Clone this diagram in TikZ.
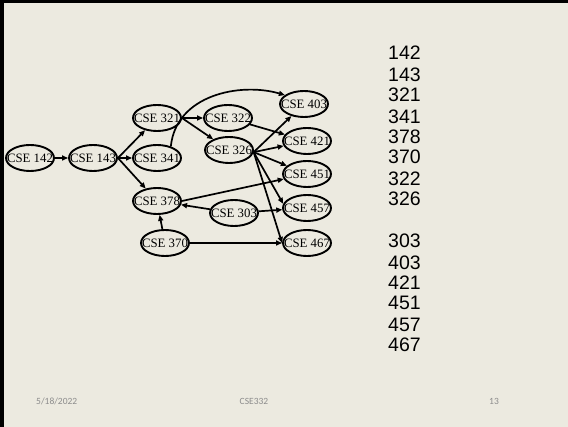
\documentclass[tikz,border=0pt]{standalone}
\usepackage{fontspec}
\setmainfont{Liberation Serif}
\newfontfamily\listfont{Liberation Sans}
\newfontfamily\footfont{Carlito}
\usetikzlibrary{shapes.geometric,arrows.meta}
\definecolor{slidebg}{HTML}{ECEAE0}
\definecolor{footgray}{HTML}{8C8C8C}
\begin{document}
\begin{tikzpicture}[x=1pt,y=-1pt,
  course/.style={draw,ellipse,line width=1.9pt,minimum width=48pt,minimum height=26pt,inner sep=0pt,font=\fontsize{12.8}{13}\selectfont},
  edge/.style={line width=1.7pt,-{Triangle[length=6pt,width=5pt]}},
  numtxt/.style={anchor=west,inner sep=0pt,font=\listfont\fontsize{19.5}{20}\selectfont},
  foot/.style={inner sep=0pt,text=footgray,font=\footfont\fontsize{9.5}{10}\selectfont}]
\fill[slidebg] (0,0) rectangle (568,427);
\useasboundingbox (0,0) rectangle (568,427);
\fill[black] (0,0) rectangle (568,3);
\fill[black] (0,0) rectangle (4,427);

\newcommand{\crs}[1]{\makebox[0pt]{CSE #1}}
\node[course] (n142) at (30,158) {\crs{142}};
\node[course] (n143) at (93,158) {\crs{143}};
\node[course] (n321) at (157,118) {\crs{321}};
\node[course] (n341) at (157,158) {\crs{341}};
\node[course] (n378) at (157,201) {\crs{378}};
\node[course] (n370) at (165,243) {\crs{370}};
\node[course] (n322) at (228,118) {\crs{322}};
\node[course] (n326) at (229,150) {\crs{326}};
\node[course] (n303) at (234,213) {\crs{303}};
\node[course] (n403) at (304,104) {\crs{403}};
\node[course] (n421) at (307,141) {\crs{421}};
\node[course] (n451) at (307,174) {\crs{451}};
\node[course] (n457) at (307,208) {\crs{457}};
\node[course] (n467) at (307,243) {\crs{467}};

\draw[edge] (n142) -- (n143);
\draw[edge] (n143.east) -- (n321);
\draw[edge] (n143.east) -- (n341);
\draw[edge] (n143.east) -- (n378);
\draw[edge] (n321.east) -- (n322);
\draw[edge] (n321.east) -- (n326);
\draw[edge] (n341.40) .. controls (176,95) and (240,82) .. (n403.155);
\draw[edge] (n322) -- (n421);
\draw[edge] (n326.-5) -- (n403);
\draw[edge] (n326.-5) -- (n421);
\draw[edge] (n326.-5) -- (n451);
\draw[edge] (n326.-5) -- (n457.170);
\draw[edge] (n326.-5) -- (n467.west);
\draw[edge] (n378.east) -- (n451);
\draw[edge] (n303) -- (n378);
\draw[edge] (n303) -- (n457);
\draw[edge] (n370) -- (n378);
\draw[edge] (n370) -- (n467);

\node[numtxt] (l1) at (388,53) {142};
\node[numtxt] (l2) at (388,75) {143};
\node[numtxt] (l3) at (388,95) {321};
\node[numtxt] (l4) at (388,117) {341};
\node[numtxt] (l5) at (388,137) {378};
\node[numtxt] (l6) at (388,157) {370};
\node[numtxt] (l7) at (388,179) {322};
\node[numtxt] (l8) at (388,199) {326};
\node[numtxt] (l9) at (388,241) {303};
\node[numtxt] (l10) at (388,263) {403};
\node[numtxt] (l11) at (388,283) {421};
\node[numtxt] (l12) at (388,303) {451};
\node[numtxt] (l13) at (388,325) {457};
\node[numtxt] (l14) at (388,345) {467};

\node[foot,anchor=west] (fdate) at (36,401) {5/18/2022};
\node[foot] (fcourse) at (254,401) {CSE332};
\node[foot] (fpage) at (494,401) {13};
\end{tikzpicture}
\end{document}
